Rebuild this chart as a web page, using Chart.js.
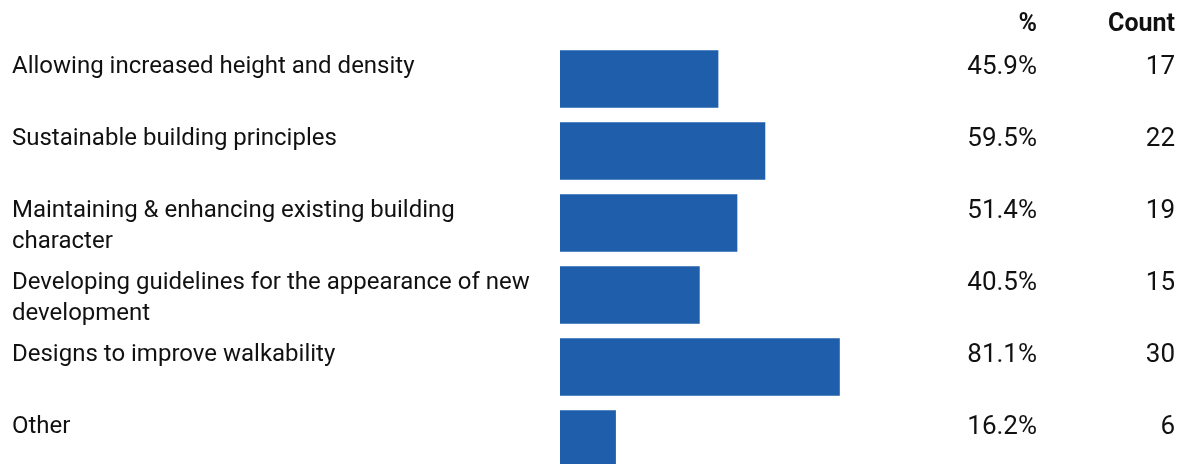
<!DOCTYPE html>
<html>
<head>
<meta charset="utf-8">
<script src="https://cdn.jsdelivr.net/npm/chart.js@4/dist/chart.umd.min.js"></script>
<style>
  html, body { margin: 0; padding: 0; background: #fff; overflow: hidden; width: 1178px; height: 464px; }
  #wrap { width: 1178px; height: 480px; }
</style>
</head>
<body>
<div id="wrap"><canvas id="c" width="1178" height="480"></canvas></div>
<script>
// Survey responses: design priorities
const categories = [
  ["Allowing increased height and density"],
  ["Sustainable building principles"],
  ["Maintaining & enhancing existing building", "character"],
  ["Developing guidelines for the appearance of new", "development"],
  ["Designs to improve walkability"],
  ["Other"]
];
const percents = [45.9, 59.5, 51.4, 40.5, 81.1, 16.2];
const counts = [17, 22, 19, 15, 30, 6];
const headers = ["%", "Count"];

const FONT = '"Roboto", "Liberation Sans", sans-serif';
const TEXT = '#111111';

// Draws the row labels, the value columns and the column headers
const tablePlugin = {
  id: 'tableText',
  afterDatasetsDraw(chart) {
    const ctx = chart.ctx;
    const meta = chart.getDatasetMeta(0);
    ctx.save();
    ctx.fillStyle = TEXT;
    ctx.textBaseline = 'middle';

    ctx.font = 'bold 25px ' + FONT;
    ctx.textAlign = 'right';
    ctx.fillText(headers[0], 1037, 25);
    ctx.fillText(headers[1], 1175, 25);

    meta.data.forEach((bar, i) => {
      const top = bar.y - bar.height / 2;
      const y0 = top + 17;
      ctx.font = '24px ' + FONT;
      ctx.textAlign = 'left';
      categories[i].forEach((line, j) => ctx.fillText(line, 12, y0 + j * 31));
      ctx.font = '26px ' + FONT;
      ctx.textAlign = 'right';
      ctx.fillText(percents[i].toFixed(1) + '%', 1037, y0);
      ctx.fillText(String(counts[i]), 1175, y0);
    });
    ctx.restore();
  }
};

new Chart(document.getElementById('c'), {
  type: 'bar',
  data: {
    labels: categories.map(c => c.join(' ')),
    datasets: [{
      data: percents,
      backgroundColor: '#1e5eab',
      borderWidth: 0,
      barPercentage: 0.8,
      categoryPercentage: 1.0
    }]
  },
  options: {
    indexAxis: 'y',
    responsive: false,
    animation: false,
    devicePixelRatio: 1,
    layout: { padding: { left: 560, right: 273, top: 43, bottom: 5 } },
    plugins: { legend: { display: false }, tooltip: { enabled: false } },
    scales: {
      x: { display: false, min: 0, max: 100 },
      y: { display: false, offset: true }
    }
  },
  plugins: [tablePlugin]
});
</script>
</body>
</html>
